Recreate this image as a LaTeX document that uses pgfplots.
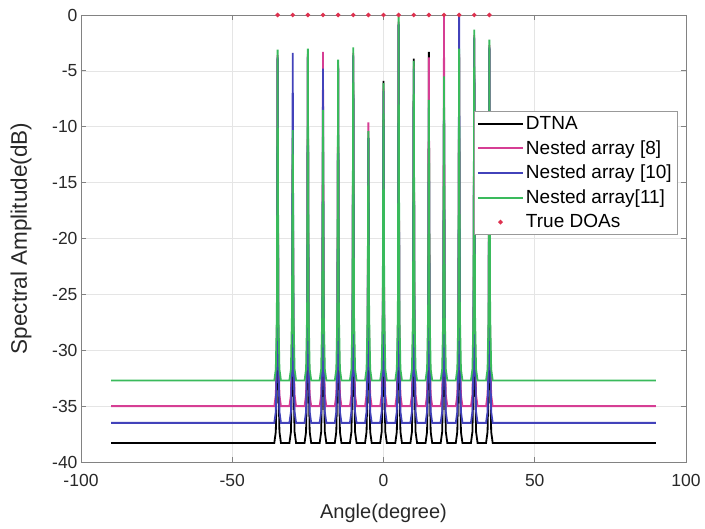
\documentclass[border=0pt]{standalone}
\usepackage{pgfplots}
\usepackage{pgfplotstable}
\pgfplotsset{compat=1.18}
\usepackage{fontspec}
\setmainfont{Liberation Sans}
\definecolor{cpink}{RGB}{214,62,148}
\definecolor{cblue}{RGB}{66,66,186}
\definecolor{cgreen}{RGB}{58,186,92}
\definecolor{cdoa}{RGB}{222,50,80}
\definecolor{axgray}{RGB}{130,130,130}
\definecolor{txgray}{RGB}{40,40,40}
\pgfplotsset{
  linelegend/.style={legend image code/.code={\draw[##1, line width=2pt] (0pt,0pt) -- (45pt,0pt);}},
  doalegend/.style={legend image code/.code={\draw[##1,mark repeat=2,mark phase=2] plot coordinates {(0pt,0pt) (22.5pt,0pt) (45pt,0pt)};}},
}

\pgfplotstableread{
x      dtna   n8     n10    n11
-90    -38.3  -35.0  -36.5  -32.7
-36.1  -38.3  -35.0  -36.5  -32.7
-35.6  -37.3  -34.0  -35.5  -31.7
-35.25 -32.3  -29.0  -30.5  -26.7
-35    -3.9   -3.6   -3.8   -3.1
-34.75 -32.3  -29.0  -30.5  -26.7
-34.4  -37.3  -34.0  -35.5  -31.7
-33.9  -38.3  -35.0  -36.5  -32.7
-31.1  -38.3  -35.0  -36.5  -32.7
-30.6  -37.3  -34.0  -35.5  -31.7
-30.25 -32.3  -29.0  -30.5  -26.7
-30    -11.0  -11.0  -3.4   -10.3
-29.75 -32.3  -29.0  -30.5  -26.7
-29.4  -37.3  -34.0  -35.5  -31.7
-28.9  -38.3  -35.0  -36.5  -32.7
-26.1  -38.3  -35.0  -36.5  -32.7
-25.6  -37.3  -34.0  -35.5  -31.7
-25.25 -32.3  -29.0  -30.5  -26.7
-25    -3.8   -3.5   -3.7   -3.0
-24.75 -32.3  -29.0  -30.5  -26.7
-24.4  -37.3  -34.0  -35.5  -31.7
-23.9  -38.3  -35.0  -36.5  -32.7
-21.1  -38.3  -35.0  -36.5  -32.7
-20.6  -37.3  -34.0  -35.5  -31.7
-20.25 -32.3  -29.0  -30.5  -26.7
-20    -9.2   -3.3   -4.8   -8.5
-19.75 -32.3  -29.0  -30.5  -26.7
-19.4  -37.3  -34.0  -35.5  -31.7
-18.9  -38.3  -35.0  -36.5  -32.7
-16.1  -38.3  -35.0  -36.5  -32.7
-15.6  -37.3  -34.0  -35.5  -31.7
-15.25 -32.3  -29.0  -30.5  -26.7
-15    -4.8   -4.5   -4.7   -4.0
-14.75 -32.3  -29.0  -30.5  -26.7
-14.4  -37.3  -34.0  -35.5  -31.7
-13.9  -38.3  -35.0  -36.5  -32.7
-11.1  -38.3  -35.0  -36.5  -32.7
-10.6  -37.3  -34.0  -35.5  -31.7
-10.25 -32.3  -29.0  -30.5  -26.7
-10    -3.7   -3.4   -3.6   -2.9
-9.75  -32.3  -29.0  -30.5  -26.7
-9.4   -37.3  -34.0  -35.5  -31.7
-8.9   -38.3  -35.0  -36.5  -32.7
-6.1   -38.3  -35.0  -36.5  -32.7
-5.6   -37.3  -34.0  -35.5  -31.7
-5.25  -32.3  -29.0  -30.5  -26.7
-5     -11.0  -9.6   -11.0  -10.4
-4.75  -32.3  -29.0  -30.5  -26.7
-4.4   -37.3  -34.0  -35.5  -31.7
-3.9   -38.3  -35.0  -36.5  -32.7
-1.1   -38.3  -35.0  -36.5  -32.7
-0.6   -37.3  -34.0  -35.5  -31.7
-0.25  -32.3  -29.0  -30.5  -26.7
0      -5.9   -6.6   -6.8   -6.1
0.25   -32.3  -29.0  -30.5  -26.7
0.6    -37.3  -34.0  -35.5  -31.7
1.1    -38.3  -35.0  -36.5  -32.7
3.9    -38.3  -35.0  -36.5  -32.7
4.4    -37.3  -34.0  -35.5  -31.7
4.75   -32.3  -29.0  -30.5  -26.7
5      -0.9   -0.6   -0.8   -0.15
5.25   -32.3  -29.0  -30.5  -26.7
5.6    -37.3  -34.0  -35.5  -31.7
6.1    -38.3  -35.0  -36.5  -32.7
8.9    -38.3  -35.0  -36.5  -32.7
9.4    -37.3  -34.0  -35.5  -31.7
9.75   -32.3  -29.0  -30.5  -26.7
10     -3.9   -4.6   -4.8   -4.1
10.25  -32.3  -29.0  -30.5  -26.7
10.6   -37.3  -34.0  -35.5  -31.7
11.1   -38.3  -35.0  -36.5  -32.7
13.9   -38.3  -35.0  -36.5  -32.7
14.4   -37.3  -34.0  -35.5  -31.7
14.75  -32.3  -29.0  -30.5  -26.7
15     -3.3   -3.8   -8.3   -7.6
15.25  -32.3  -29.0  -30.5  -26.7
15.6   -37.3  -34.0  -35.5  -31.7
16.1   -38.3  -35.0  -36.5  -32.7
18.9   -38.3  -35.0  -36.5  -32.7
19.4   -37.3  -34.0  -35.5  -31.7
19.75  -32.3  -29.0  -30.5  -26.7
20     -6.3   0.0    -6.2   -5.5
20.25  -32.3  -29.0  -30.5  -26.7
20.6   -37.3  -34.0  -35.5  -31.7
21.1   -38.3  -35.0  -36.5  -32.7
23.9   -38.3  -35.0  -36.5  -32.7
24.4   -37.3  -34.0  -35.5  -31.7
24.75  -32.3  -29.0  -30.5  -26.7
25     -3.8   -3.5   0.0    -3.0
25.25  -32.3  -29.0  -30.5  -26.7
25.6   -37.3  -34.0  -35.5  -31.7
26.1   -38.3  -35.0  -36.5  -32.7
28.9   -38.3  -35.0  -36.5  -32.7
29.4   -37.3  -34.0  -35.5  -31.7
29.75  -32.3  -29.0  -30.5  -26.7
30     -2.1   -1.8   -2.0   -1.3
30.25  -32.3  -29.0  -30.5  -26.7
30.6   -37.3  -34.0  -35.5  -31.7
31.1   -38.3  -35.0  -36.5  -32.7
33.9   -38.3  -35.0  -36.5  -32.7
34.4   -37.3  -34.0  -35.5  -31.7
34.75  -32.3  -29.0  -30.5  -26.7
35     -3.0   -2.7   -2.9   -2.2
35.25  -32.3  -29.0  -30.5  -26.7
35.6   -37.3  -34.0  -35.5  -31.7
36.1   -38.3  -35.0  -36.5  -32.7
90     -38.3  -35.0  -36.5  -32.7
}\spec

\pgfplotstableread{
x   y
-35 0
-30 0
-25 0
-20 0
-15 0
-10 0
-5  0
0   0
5   0
10  0
15  0
20  0
25  0
30  0
35  0
}\doas

\begin{document}
\begin{tikzpicture}
\begin{axis}[
  scale only axis,
  width=605pt, height=447pt,
  xmin=-100, xmax=100, ymin=-40, ymax=0,
  xtick={-100,-50,...,100},
  ytick={-40,-35,...,0},
  grid=major,
  major grid style={draw=black!10, line width=0.6pt},
  axis line style={draw=axgray, line width=0.8pt},
  tick style={draw=axgray, line width=0.8pt},
  major tick length=5pt,
  tick align=inside,
  /pgf/number format/assume math mode=true,
  tick label style={font=\fontsize{17.5}{19}\selectfont, text=txgray},
  xticklabel style={yshift=-9pt},
  xlabel={Angle(degree)},
  ylabel={Spectral Amplitude(dB)},
  xlabel style={at={(axis description cs:0.5,-0.115)}, anchor=center,
    font=\fontsize{20}{22}\selectfont, text=txgray},
  ylabel style={at={(axis description cs:-0.099,0.5)}, anchor=center,
    font=\fontsize{22.5}{24}\selectfont, text=txgray},
  legend style={at={(rel axis cs:0.985,0.785)}, anchor=north east,
    draw=black!40, font=\fontsize{19}{21}\selectfont,
    row sep=5.5pt, inner xsep=3pt, inner ysep=3pt},
  legend cell align=left,
  linelegend,
  every axis plot/.append style={line width=1.8pt},
]
\addplot[black, no markers] table[x=x, y=dtna] {\spec};
\addlegendentry{DTNA}
\addplot[cpink, no markers] table[x=x, y=n8] {\spec};
\addlegendentry{Nested array [8]}
\addplot[cblue, no markers] table[x=x, y=n10] {\spec};
\addlegendentry{Nested array [10]}
\addplot[cgreen, no markers] table[x=x, y=n11] {\spec};
\addlegendentry{Nested array[11]}
\addplot[only marks, mark=*, mark size=1.2pt, cdoa, doalegend]
  table[x=x, y=y] {\doas};
\addlegendentry{True DOAs}
\end{axis}
\pgfresetboundingbox
\path[use as bounding box] (-81pt,-67pt) rectangle (624pt,462pt);
\end{tikzpicture}
\end{document}
